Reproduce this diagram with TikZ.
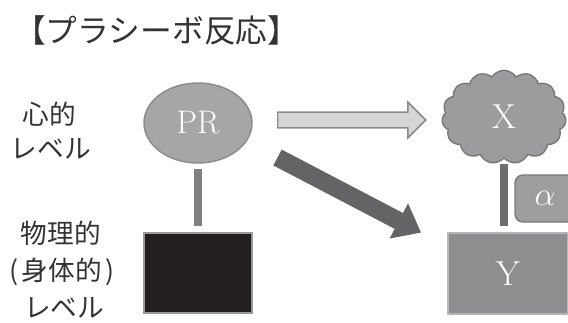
\documentclass[tikz,border=0pt]{standalone}
\usepackage{fontspec}
\newfontfamily\jp{Noto Sans CJK JP}
\usetikzlibrary{shapes.geometric,shapes.arrows,shapes.symbols}
\definecolor{prfill}{HTML}{A6A6A6}
\definecolor{prline}{HTML}{8C8C8C}
\definecolor{lightfill}{HTML}{D6D6D6}
\definecolor{lightline}{HTML}{8A8A8A}
\definecolor{darkarrow}{HTML}{646466}
\definecolor{cloudfill}{HTML}{9C9C9E}
\definecolor{cloudline}{HTML}{7A7A7A}
\definecolor{barone}{HTML}{808080}
\definecolor{bartwo}{HTML}{6E6E70}
\definecolor{blackfill}{HTML}{231F20}
\definecolor{blackline}{HTML}{999999}
\definecolor{alphafill}{HTML}{9E9E9E}
\definecolor{alphaline}{HTML}{7A7A7A}
\definecolor{yfill}{HTML}{8E8E90}
\definecolor{yline}{HTML}{B5B5B5}
\definecolor{textgray}{HTML}{333333}
\begin{document}
\begin{tikzpicture}[x=0.75pt,y=-0.75pt,
  jplabel/.style={text=textgray, inner sep=0pt, font=\jp\fontsize{20}{20}\selectfont},
  letter/.style={text=white, font=\fontsize{26}{26}\selectfont},
  vbar/.style={line width=6pt},
  fatarrow/.style={single arrow, inner xsep=0pt, minimum width=1pt, line width=1.1pt}
]
\useasboundingbox (0,0) rectangle (568,322);
\clip (0,0) rectangle (568,322);
% title
\node[font=\jp\fontsize{23.8}{23.8}\selectfont, text=textgray, anchor=west, inner sep=0pt] (title) at (14,30) {【プラシーボ反応】};
% level labels
\node[jplabel] (mentalA) at (49,114) {心的};
\node[jplabel] (mentalB) at (51,149) {レベル};
\node[jplabel] (physA) at (61,233) {物理的};
\node[jplabel] (physB) at (62,272) {(\hspace{0.12em}身体的\hspace{0.12em})};
\node[jplabel] (physC) at (64,308) {レベル};
% PR
\node[ellipse, draw=prline, fill=prfill, line width=1.1pt, minimum width=81pt, minimum height=60pt, inner sep=0pt, text=white, font=\fontsize{24.5}{24.5}\selectfont] (pr) at (198,123) {PR};
% black box
\node[draw=blackline, fill=blackfill, line width=1.1pt, minimum width=81pt, minimum height=60pt, inner sep=0pt] (phys) at (198,273) {};
% cloud X
\node[cloud, cloud puffs=15, cloud puff arc=115, aspect=1.35, draw=cloudline, fill=cloudfill, line width=1.1pt, minimum width=93pt, minimum height=70pt, inner sep=0pt, letter] (xc) at (504,117) {X};
% Y box
\node[draw=yline, fill=yfill, line width=1.1pt, minimum width=90pt, minimum height=60.75pt, inner sep=0pt, letter] (yb) at (508,273.5) {Y};
% alpha box
\node[draw=alphaline, fill=alphafill, line width=1.1pt, rounded corners=6pt, minimum width=45pt, minimum height=35.25pt, inner sep=0pt, text=white, font=\fontsize{24}{24}\selectfont] (al) at (545,198.5) {$\alpha$};
% bars
\draw[vbar, barone, shorten <=3.75pt, shorten >=4.5pt] (pr.south) -- (phys.north);
\draw[vbar, bartwo, shorten <=3.5pt, shorten >=4.5pt] (xc.south) -- (xc.south |- yb.north);
% fat arrows
\node[fatarrow, draw=lightline, fill=lightfill, inner ysep=5.4pt, single arrow head extend=7.5pt, single arrow tip angle=90, minimum height=111pt, anchor=tail] (a1) at (277,120) {};
\node[fatarrow, draw=darkarrow, fill=darkarrow, line width=0.5pt, inner ysep=6.2pt, single arrow head extend=7.9pt, single arrow tip angle=77, minimum height=120.75pt, rotate=-27.6, anchor=tail] (a2) at (277.5,157.5) {};
\end{tikzpicture}
\end{document}
